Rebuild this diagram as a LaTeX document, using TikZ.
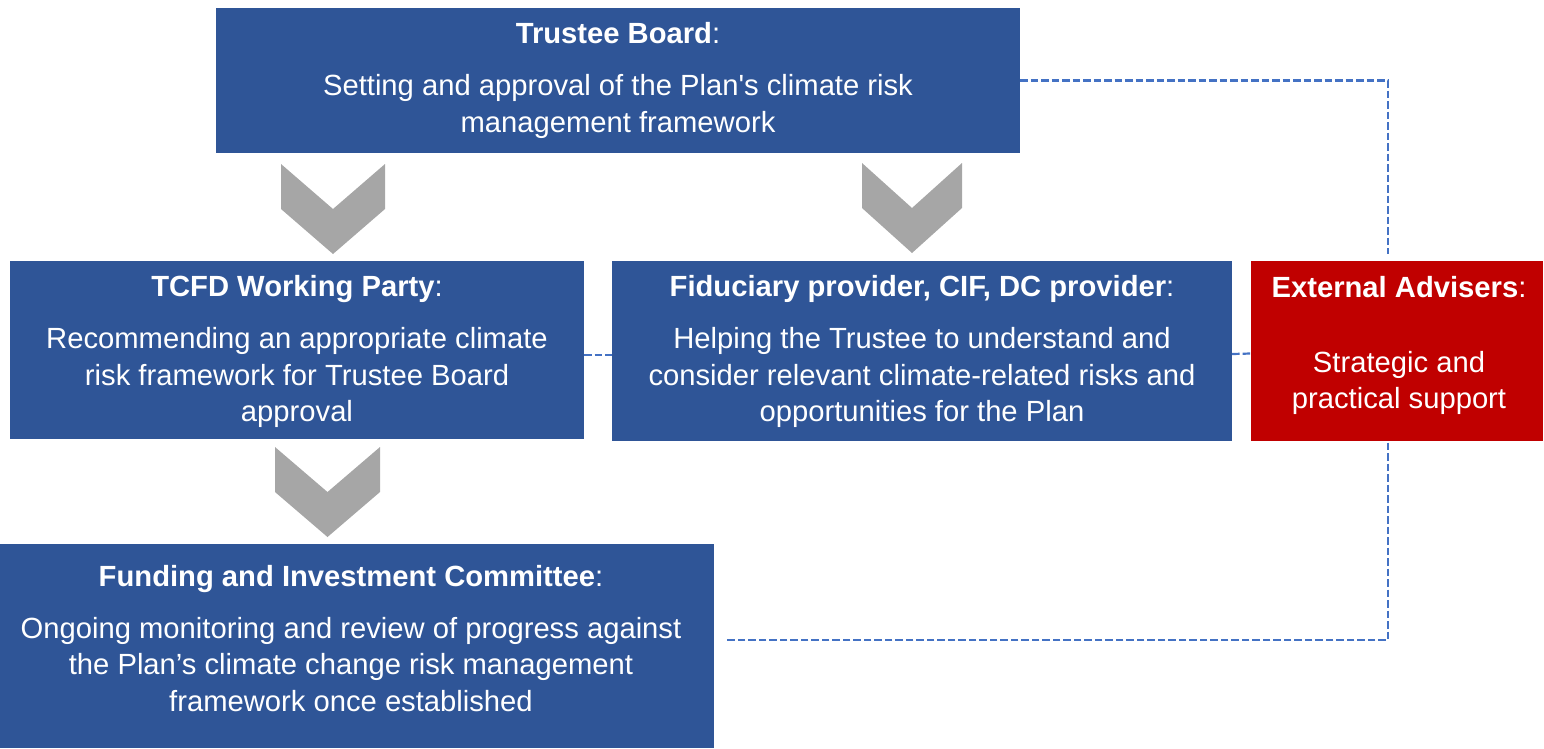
\documentclass[tikz,border=0pt]{standalone}
\usepackage{fontspec}
\setmainfont{Liberation Sans}
\definecolor{boxblue}{HTML}{2F5597}
\definecolor{boxred}{HTML}{C00000}
\definecolor{chevgrey}{HTML}{A6A6A6}
\definecolor{linkblue}{HTML}{4472C4}
\begin{document}
\begin{tikzpicture}[x=1pt,y=-1pt,
  panel/.style={rectangle, inner sep=0pt, fill=boxblue},
  redpanel/.style={panel, fill=boxred},
  paneltext/.style={text=white, align=center, inner sep=0pt,
    font=\fontsize{29.2}{36.5}\selectfont},
  link/.style={draw=linkblue, line width=2.2pt, dash pattern=on 7.5pt off 3pt},
  chevron/.pic={\fill[chevgrey] (-52,0) -- (0,45) -- (52,0) -- (52,45) -- (0,90) -- (-52,45) -- cycle;}
]
\useasboundingbox (0,0) rectangle (1544,748);

% boxes
\node[panel, minimum width=804pt, minimum height=145pt] (trustee) at (618,80.5) {};
\node[panel, minimum width=574pt, minimum height=178pt] (tcfd) at (297,350) {};
\node[panel, minimum width=620pt, minimum height=180pt] (fid) at (922,351) {};
\node[redpanel, minimum width=292pt, minimum height=180pt] (ext) at (1397,350.5) {};
\node[panel, minimum width=714pt, minimum height=204pt] (fund) at (357,646) {};

% box texts
\node[paneltext] (trusteetxt) at (618,80) {\textbf{Trustee Board}:\\[16pt]
  Setting and approval of the Plan\textquotesingle s climate risk\\
  management framework};
\node[paneltext] (tcfdtxt) at (297,351.5) {\textbf{TCFD Working Party}:\\[15.5pt]
  Recommending an appropriate climate\\
  risk framework for Trustee Board\\
  approval};
\node[paneltext] (fidtxt) at (922,351.5) {\textbf{Fiduciary provider, CIF, DC provider}:\\[15.5pt]
  Helping the Trustee to understand and\\
  consider relevant climate-related risks and\\
  opportunities for the Plan};
\node[paneltext] (exttxt) at (1399,345.5) {\textbf{External Advisers}:\\[38.5pt]
  Strategic and\\
  practical support};
\node[paneltext] (fundtxt) at (351,638.5) {\textbf{Funding and Investment Committee}:\\[15.5pt]
  Ongoing monitoring and review of progress against\\
  the Plan’s climate change risk management\\
  framework once established};

% grey chevrons
\pic at (333,164) {chevron};
\pic[xscale=50/52] at (912,163) {chevron};
\pic[xscale=52.5/52] at (327.5,447) {chevron};

% dashed links
\coordinate (fundlink) at (725,640);
\draw[link] (trustee.east) -| ([xshift=-9pt,yshift=6pt]ext.north);
\draw[link] ([yshift=-5pt]tcfd.east) -- ([yshift=-4pt]fid.west);
\draw[link] ([yshift=-3pt]fid.east) -- ([yshift=-3pt]ext.west);
\draw[link] ([xshift=-9pt,yshift=-2pt]ext.south) |- (fundlink);
\end{tikzpicture}
\end{document}
